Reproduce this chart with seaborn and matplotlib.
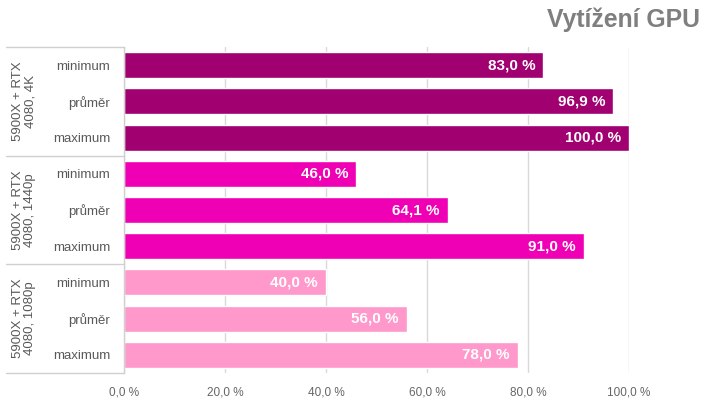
import matplotlib
matplotlib.use("Agg")
import matplotlib.pyplot as plt
import matplotlib.transforms as mtransforms
from matplotlib.lines import Line2D
import seaborn as sns
import pandas as pd

# ---- data ----
groups = ["5900X + RTX\n4080, 4K", "5900X + RTX\n4080, 1440p", "5900X + RTX\n4080, 1080p"]
stats = ["minimum", "průměr", "maximum"]
values_4k = [83.0, 96.9, 100.0]
values_1440 = [46.0, 64.1, 91.0]
values_1080 = [40.0, 56.0, 78.0]
group_colors = ["#A10070", "#F000B4", "#FF99CC"]
x_ticks = [0, 20, 40, 60, 80, 100]
title = "Vytížení GPU"

all_values = [values_4k, values_1440, values_1080]
rows = []
for gi, (g, vals) in enumerate(zip(groups, all_values)):
    for si, (s, v) in enumerate(zip(stats, vals)):
        rows.append({"row": f"{gi}-{si}", "stat": s, "group": g, "value": v})
df = pd.DataFrame(rows)

sns.set_style("white")
plt.rcParams["font.family"] = ["Liberation Sans", "DejaVu Sans"]

fig = plt.figure(figsize=(7.2, 4.05), dpi=100)
ax = fig.add_axes([124 / 720, 1 - 373 / 405, 505 / 720, (373 - 47) / 405])

sns.barplot(data=df, y="row", x="value", hue="group", palette=group_colors,
            dodge=False, width=0.72, orient="h", ax=ax, legend=False,
            saturation=1)

ax.set_xlim(0, 100)
ax.set_ylim(8.5, -0.5)
ax.set_xticks(x_ticks)
ax.set_xticklabels([f"{t:.1f}".replace(".", ",") + " %" for t in x_ticks])
ax.set_yticks(range(len(df)))
ax.set_yticklabels(df["stat"])
ax.set_xlabel("")
ax.set_ylabel("")
ax.tick_params(axis="x", length=0, pad=10, labelsize=8.5, labelcolor="#666666")
ax.tick_params(axis="y", length=0, pad=10, labelsize=9.5, labelcolor="#595959")
for lab in ax.get_yticklabels():
    lab.set_horizontalalignment("right")

ax.grid(axis="x", color="#D9D9D9", linewidth=1)
ax.grid(axis="y", visible=False)
ax.set_axisbelow(True)
for sp in ["top", "right", "bottom"]:
    ax.spines[sp].set_visible(False)
ax.spines["left"].set_color("#D0D0D0")
ax.spines["left"].set_linewidth(1)

# value labels
for i, v in enumerate(df["value"]):
    ax.annotate(f"{v:.1f}".replace(".", ",") + " %", xy=(v, i), xytext=(-8, 0),
                textcoords="offset pixels", ha="right", va="center",
                color="white", fontsize=11, fontweight="bold")

# group separators and labels
trans = mtransforms.blended_transform_factory(ax.transAxes, ax.transData)
x0 = (6 - 124) / 505
for yb in [-0.5, 2.5, 5.5, 8.5]:
    ax.add_line(Line2D([x0, 0], [yb, yb], transform=trans, color="#D0D0D0",
                       linewidth=1, clip_on=False))
for gi, g in enumerate(groups):
    ax.text((24 - 124) / 505, gi * 3 + 1, g, transform=trans, rotation=90,
            ha="center", va="center", fontsize=9.5, color="#595959",
            linespacing=1.05, multialignment="center")

fig.text(700 / 720, 1 - 20 / 405, title, ha="right", va="center",
         fontsize=17.8, fontweight="bold", color="#7F7F7F")

fig.savefig("out.png", dpi=100, facecolor="white")
